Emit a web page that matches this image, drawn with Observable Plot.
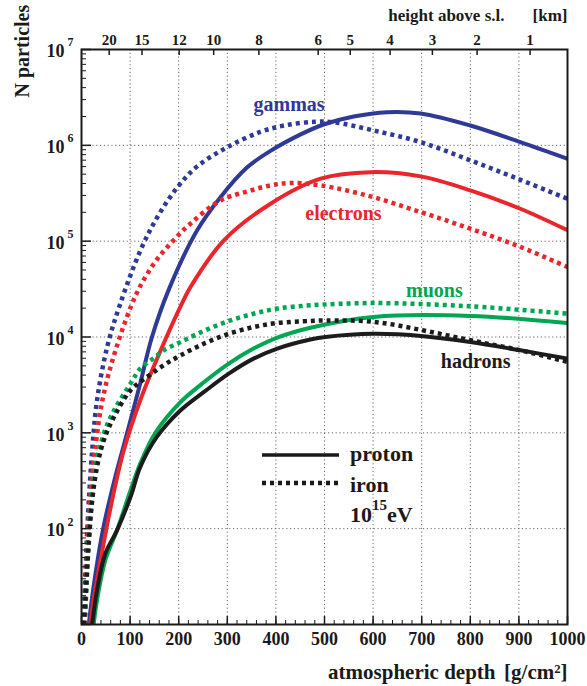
<!DOCTYPE html>
<html>
<head>
<meta charset="utf-8">
<script src="https://cdn.jsdelivr.net/npm/d3@7"></script>
<script src="https://cdn.jsdelivr.net/npm/@observablehq/plot@0.6"></script>
<style>
  html, body { margin: 0; padding: 0; background: #fff; }
  #chart svg { display: block; overflow: visible; }
</style>
</head>
<body>
<div id="chart"></div>
<script>
// Longitudinal shower development: number of particles vs atmospheric depth,
// 10^15 eV proton (solid) and iron (dotted) primaries.

// ---- axes ----
const depthTicks = [0, 100, 200, 300, 400, 500, 600, 700, 800, 900, 1000];
const depthMinorTicks = d3.range(0, 1001, 20);
const gridDepths = [100, 200, 300, 400, 500, 600, 700, 800, 900];
const decadeTicks = [1e1, 1e2, 1e3, 1e4, 1e5, 1e6, 1e7];
const labelDecades = [1e2, 1e3, 1e4, 1e5, 1e6, 1e7];
const labelExponents = ["2", "3", "4", "5", "6", "7"];
const gridDecades = [1e2, 1e3, 1e4, 1e5, 1e6];
// height above sea level (km) and the atmospheric depth (g/cm^2) it corresponds to
const heightKm = [20, 15, 12, 10, 8, 6, 5, 4, 3, 2, 1];
const heightDepth = [57, 124.5, 201, 272, 365, 487, 553, 635, 722, 814, 923];

// ---- shower curves: depth [g/cm^2] and particle number ----
const gammaProtonDepth = [15, 25, 44.6, 70, 94, 120, 145, 180, 238, 286, 341, 389, 451, 498, 560, 629, 698, 800, 903, 1000];
const gammaProtonN = [10, 25, 100, 355, 1000, 3160, 10000, 31600, 1.30e5, 2.88e5, 5.89e5, 8.75e5, 1.30e6, 1.65e6, 2.00e6, 2.22e6, 2.15e6, 1.61e6, 1.08e6, 7.24e5];

const gammaIronDepth = [4, 12, 22, 32, 53, 80, 121, 156, 197, 238, 300, 368, 420, 480, 520, 601, 698, 800, 903, 1000];
const gammaIronN = [10, 100, 658, 2190, 7940, 22400, 79400, 1.78e5, 3.63e5, 6.03e5, 9.55e5, 1.38e6, 1.62e6, 1.76e6, 1.74e6, 1.43e6, 1.08e6, 6.97e5, 4.37e5, 2.77e5];

const electronProtonDepth = [18, 25, 43, 63, 87, 121, 163, 210, 224, 293, 389, 492, 595, 698, 800, 903, 1000];
const electronProtonN = [10, 18, 60, 198, 658, 2190, 7260, 24200, 33100, 1.02e5, 2.46e5, 4.49e5, 5.25e5, 4.74e5, 3.39e5, 2.18e5, 1.30e5];

const electronIronDepth = [7, 12, 18, 28, 43, 70, 113, 149, 183, 224, 286, 341, 389, 430, 492, 595, 698, 800, 903, 1000];
const electronIronN = [10, 60, 198, 658, 2190, 7260, 28200, 58200, 94200, 1.52e5, 2.66e5, 3.30e5, 3.82e5, 4.04e5, 3.82e5, 2.93e5, 2.01e5, 1.35e5, 8.71e4, 5.37e4];

const muonProtonDepth = [25, 32, 49, 73, 101, 121, 152, 204, 238, 303, 354, 403, 471, 601, 800, 1000];
const muonProtonN = [10, 18, 47, 96, 252, 479, 1000, 2100, 2965, 5280, 7570, 9860, 12500, 16200, 16600, 14000];

const muonIronDepth = [6, 9, 14, 22, 32, 46, 67, 101, 121, 149, 169, 204, 252, 303, 354, 403, 471, 601, 800, 1000];
const muonIronN = [10, 17.8, 63, 224, 525, 984, 1720, 3270, 4690, 6030, 7260, 8870, 11600, 14700, 17500, 19800, 21400, 22600, 20900, 17500];

const hadronProtonDepth = [22, 32, 49, 73, 101, 121, 155, 204, 252, 303, 354, 403, 471, 502, 601, 704, 800, 903, 1000];
const hadronProtonN = [10, 22.9, 55, 96, 215, 441, 906, 1720, 2670, 4150, 5950, 7570, 9400, 10000, 10800, 10200, 8870, 7260, 5960];

const hadronIronDepth = [5, 8, 14, 22, 32, 46, 67, 101, 135, 169, 204, 252, 303, 354, 403, 471, 502, 601, 704, 800, 903, 1000];
const hadronIronN = [10, 18, 60, 198, 442, 838, 1470, 2780, 3830, 5070, 6440, 8530, 10800, 12700, 14000, 14700, 14900, 14400, 11700, 9250, 7260, 5500];

// curve name labels
const curveLabelText = ["gammas", "electrons", "muons", "hadrons"];
const curveLabelDepth = [427, 539, 726, 811];
const curveLabelN = [2.67e6, 1.94e5, 3.07e4, 5585];

// ---- styling ----
const SERIF = "'Liberation Serif', 'Times New Roman', serif";
const INK = "#1a1a1a";
const COLORS = { gammas: "#2f3996", electrons: "#e8262b", muons: "#00a651", hadrons: "#1c1c1c" };

const series = [
  { name: "gammas", primary: "proton", depth: gammaProtonDepth, n: gammaProtonN },
  { name: "gammas", primary: "iron", depth: gammaIronDepth, n: gammaIronN },
  { name: "electrons", primary: "proton", depth: electronProtonDepth, n: electronProtonN },
  { name: "electrons", primary: "iron", depth: electronIronDepth, n: electronIronN },
  { name: "muons", primary: "proton", depth: muonProtonDepth, n: muonProtonN },
  { name: "muons", primary: "iron", depth: muonIronDepth, n: muonIronN },
  { name: "hadrons", primary: "proton", depth: hadronProtonDepth, n: hadronProtonN },
  { name: "hadrons", primary: "iron", depth: hadronIronDepth, n: hadronIronN }
];

const W = 587, H = 686;
const M = { top: 49, right: 20, bottom: 62, left: 81 };
const frameW = W - M.left - M.right;
const frameH = H - M.top - M.bottom;

const curveMarks = series.map(s => {
  const rows = s.depth.map((d, i) => ({ depth: d, n: s.n[i] }));
  return Plot.line(rows, {
    x: "depth", y: "n",
    stroke: COLORS[s.name],
    strokeWidth: s.primary === "iron" ? 4.5 : 4,
    strokeDasharray: s.primary === "iron" ? "4,4" : null,
    strokeLinecap: "butt",
    curve: "catmull-rom",
    clip: true
  });
});

// legend key drawn in frame-relative pixels
function legendKey(index, scales, values, dims) {
  const x0 = dims.marginLeft, y0 = dims.marginTop;
  const g = d3.create("svg:g")
    .attr("font-family", SERIF).attr("font-weight", "bold")
    .attr("fill", INK).attr("font-size", 22).attr("text-anchor", "start");
  g.append("line").attr("x1", x0 + 181).attr("x2", x0 + 258)
    .attr("y1", y0 + 406).attr("y2", y0 + 406)
    .attr("stroke", INK).attr("stroke-width", 3.5);
  g.append("line").attr("x1", x0 + 181).attr("x2", x0 + 258)
    .attr("y1", y0 + 434).attr("y2", y0 + 434)
    .attr("stroke", INK).attr("stroke-width", 4.5).attr("stroke-dasharray", "4,4");
  g.append("text").attr("x", x0 + 269).attr("y", y0 + 412).text("proton");
  g.append("text").attr("x", x0 + 269).attr("y", y0 + 443).text("iron");
  const t = g.append("text").attr("x", x0 + 269).attr("y", y0 + 473);
  t.append("tspan").text("10");
  t.append("tspan").attr("dy", -12).attr("font-size", 15).text("15");
  t.append("tspan").attr("dy", 12).text("eV");
  return g.node();
}

const txt = { fontFamily: SERIF, fontWeight: "bold", fill: INK, lineAnchor: "middle" };

const chart = Plot.plot({
  width: W, height: H,
  marginTop: M.top, marginRight: M.right, marginBottom: M.bottom, marginLeft: M.left,
  style: { background: "#fff", fontFamily: SERIF },
  x: { domain: [0, 1000], axis: null },
  y: { type: "log", domain: [10, 1e7], axis: null },
  marks: [
    // dotted grid
    Plot.ruleX(gridDepths, { stroke: "#666", strokeWidth: 1, strokeDasharray: "1.2,2.6" }),
    Plot.ruleY(gridDecades, { stroke: "#666", strokeWidth: 1, strokeDasharray: "1.2,2.6" }),

    ...curveMarks,

    // curve names
    Plot.text(curveLabelText, {
      ...txt, x: (d, i) => curveLabelDepth[i], y: (d, i) => curveLabelN[i],
      text: d => d, fontSize: 20, fill: d => COLORS[d]
    }),

    legendKey,

    // inward ticks: bottom (depth), left (N), top (height)
    Plot.tickX(depthMinorTicks, { x: d => d, insetTop: frameH - 4, stroke: INK, strokeWidth: 1 }),
    Plot.tickX(depthTicks, { x: d => d, insetTop: frameH - 8, stroke: INK, strokeWidth: 1.5 }),
    Plot.tickY(decadeTicks.slice(0, -1).flatMap(d => d3.range(2, 10).map(k => d * k)),
      { y: d => d, insetRight: frameW - 5, stroke: INK, strokeWidth: 1 }),
    Plot.tickY(decadeTicks, { y: d => d, insetRight: frameW - 10, stroke: INK, strokeWidth: 1.5 }),
    Plot.tickX(heightDepth, { x: d => d, insetBottom: frameH - 6, stroke: INK, strokeWidth: 1.5 }),

    Plot.frame({ stroke: INK, strokeWidth: 2 }),

    // tick labels
    Plot.text(depthTicks, { ...txt, x: d => d, frameAnchor: "bottom", dy: 15, text: d => String(d), fontSize: 18 }),
    Plot.text(heightKm, { ...txt, x: (d, i) => heightDepth[i], frameAnchor: "top", dy: -9, text: d => String(d), fontSize: 15 }),
    Plot.text(labelDecades, { ...txt, y: d => d, frameAnchor: "left", dx: -17, dy: 2, textAnchor: "end", text: () => "10", fontSize: 18 }),
    Plot.text(labelDecades, { ...txt, y: d => d, frameAnchor: "left", dx: -14, dy: -7, textAnchor: "start", text: (d, i) => labelExponents[i], fontSize: 12 }),

    // axis titles
    Plot.text(["N particles"], { ...txt, frameAnchor: "top-left", dx: -59, dy: 48, rotate: -90, text: d => d, fontSize: 20 }),
    Plot.text(["atmospheric depth"], { ...txt, frameAnchor: "bottom-right", dx: -72, dy: 48, textAnchor: "end", text: d => d, fontSize: 21 }),
    Plot.text(["[g/cm²]"], { ...txt, frameAnchor: "bottom-right", dx: 0, dy: 48, textAnchor: "end", text: d => d, fontSize: 21 }),
    Plot.text(["height above s.l."], { ...txt, frameAnchor: "top-right", dx: -63, dy: -34, textAnchor: "end", text: d => d, fontSize: 17 }),
    Plot.text(["[km]"], { ...txt, frameAnchor: "top-right", dx: 0, dy: -34, textAnchor: "end", text: d => d, fontSize: 17 })
  ]
});

document.getElementById("chart").appendChild(chart);
</script>
</body>
</html>
